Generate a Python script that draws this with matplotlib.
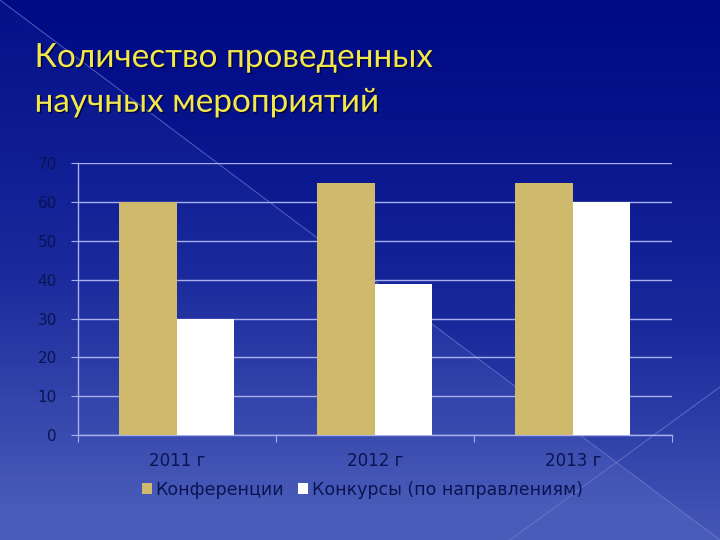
import numpy as np
import matplotlib
matplotlib.use("Agg")
import matplotlib.pyplot as plt
import matplotlib.patheffects as pe
from matplotlib.colors import LinearSegmentedColormap

# Данные
years = ["2011 г", "2012 г", "2013 г"]
konferencii = [60, 65, 65]
konkursy = [30, 39, 60]
series_names = ["Конференции", "Конкурсы (по направлениям)"]

plt.rcParams['font.family'] = ['DejaVu Sans']

fig = plt.figure(figsize=(7.2, 5.4), dpi=100)

# Фон: градиент + диагональ
bg = fig.add_axes([0, 0, 1, 1], zorder=0)
h, w = 270, 360
yy, xx = np.mgrid[0:h, 0:w] / np.array([h - 1, w - 1])[:, None, None]
grad = yy ** 1.3
grad = grad + 0.12 * (yy > xx * 1.0)  # светлее ниже диагонали
cmap = LinearSegmentedColormap.from_list("bg", ["#000a85", "#1a2a9c", "#4a5cb9"])
bg.imshow(grad, cmap=cmap, aspect="auto", extent=[0, 1, 0, 1], origin="upper",
          vmin=0, vmax=1.05)
bg.plot([0, 1], [1, 0], color="#7080d0", lw=0.7, alpha=0.7)
bg.plot([1, 510 / 720], [1 - 387 / 540, 0], color="#7080d0", lw=0.7, alpha=0.7)
bg.set_xlim(0, 1)
bg.set_ylim(0, 1)
bg.axis("off")

# Заголовок
title_fx = [pe.withSimplePatchShadow(offset=(1, -1), shadow_rgbFace="#000030", alpha=0.8)]
fig.text(0.048, 0.876, "Количество проведенных", fontsize=24, color="#f2e84a",
         family="Lato", path_effects=title_fx)
fig.text(0.048, 0.793, "научных мероприятий", fontsize=24, color="#f2e84a",
         family="Lato", path_effects=title_fx)

ax = fig.add_axes([0.108, 0.194, 0.825, 0.504], zorder=1)
ax.patch.set_alpha(0)
x = np.arange(len(years))
bw = 0.29
ax.bar(x - bw / 2, konferencii, bw, color="#cfb96d", label=series_names[0], zorder=3)
ax.bar(x + bw / 2, konkursy, bw, color="white", label=series_names[1], zorder=3)

ax.set_xlim(-0.5, 2.5)
ax.set_ylim(0, 70)
ax.set_yticks(range(0, 71, 10))
ax.yaxis.grid(True, color="#a8b0f0", lw=1.0, zorder=1)
ax.set_axisbelow(True)

ax.set_xticks([-0.5, 0.5, 1.5, 2.5])
ax.set_xticklabels([])
ax.set_xticks(x, minor=True)
ax.set_xticklabels(years, minor=True)
ax.tick_params(axis="x", which="major", length=5, color="#a8b0f0", direction="out")
ax.tick_params(axis="x", which="minor", length=0, pad=12, labelsize=12, labelcolor="#0a1450")
ax.tick_params(axis="y", length=5, color="#a8b0f0", labelsize=11, labelcolor="#0a1450", pad=10)

for s in ["top", "right"]:
    ax.spines[s].set_visible(False)
for s in ["left", "bottom"]:
    ax.spines[s].set_color("#a8b0f0")
    ax.spines[s].set_linewidth(1.0)

leg = fig.legend(loc="center", bbox_to_anchor=(0.503, 0.093), ncol=2, frameon=False,
                 fontsize=12.5, handlelength=0.6, handleheight=0.6, handletextpad=0.2,
                 columnspacing=0.8)
for t in leg.get_texts():
    t.set_color("#0a1450")

fig.savefig("out.png", dpi=100)
